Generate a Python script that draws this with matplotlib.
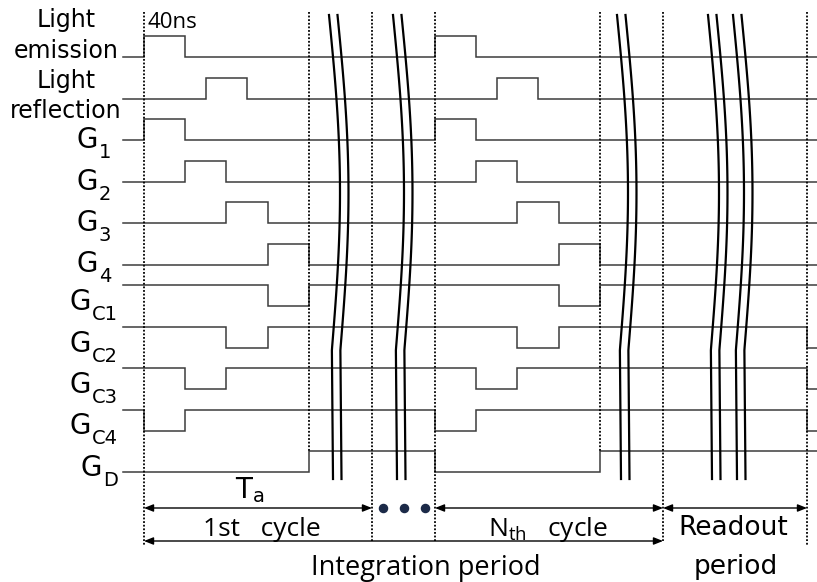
import numpy as np
import matplotlib.pyplot as plt

# timing chart rows, top to bottom
label_main = ["Light", "Light", "G", "G", "G", "G", "G", "G", "G", "G", "G"]
label_sub = ["emission", "reflection", "1", "2", "3", "4", "C1", "C2", "C3", "C4", "D"]
# pulse position inside one cycle, counted in 40 ns slots
pulse_slot = [0, 1.5, 0, 1, 2, 3, 3, 2, 1, 0, None]
# signals that idle high and pulse low
active_low = [False, False, False, False, False, False, True, True, True, True, True]
# signals that go low at the end of the readout period
low_after_readout = ["C2", "C3", "C4"]

# horizontal layout of the chart (diagram units)
x_start, x_end = 123, 817
cycle_start = [144, 435]
slot_w = 41.2
n_slots = 4
gap_mark = 372
readout_start, readout_end = 663, 807

# vertical layout
row_top = 57
row_step = 41.5
pulse_h = 21

# break marks: top x of each double line group, shape in diagram units
break_x = [329, 393, 617, 708, 733]
break_pair_gap = 8.5
break_drift = 4
break_bulge = 9.5

sig_color = "#3c3c3c"

fig = plt.figure(figsize=(8.17, 5.82), dpi=100)
ax = fig.add_axes([0, 0, 1, 1])
ax.set_xlim(0, 817)
ax.set_ylim(582, 0)
ax.axis("off")

cycle_end = [c + n_slots * slot_w for c in cycle_start]

# signals
for i in range(len(label_sub)):
    base = row_top + i * row_step
    high = base - pulse_h
    idle, act = (high, base) if active_low[i] else (base, high)
    if pulse_slot[i] is None:
        # G_D: low while the gates are cycling
        spans = [(x_start, cycle_end[0]), (cycle_start[1], cycle_end[1])]
    else:
        spans = [(c + pulse_slot[i] * slot_w, c + (pulse_slot[i] + 1) * slot_w)
                 for c in cycle_start]
    if label_sub[i] in low_after_readout:
        spans.append((readout_end, x_end))
    xs = [x_start]
    ys = [act if spans[0][0] <= x_start else idle]
    for a, b in spans:
        if a > x_start:
            xs += [a, a]
            ys += [idle, act]
        if b < x_end:
            xs += [b, b]
            ys += [act, idle]
    xs.append(x_end)
    ys.append(act if spans[-1][1] >= x_end else idle)
    ax.plot(xs, ys, color=sig_color, lw=1.1, solid_joinstyle="miter")

# dotted boundaries
marks = [cycle_start[0], cycle_end[0], gap_mark, cycle_start[1], cycle_end[1],
         readout_start, readout_end]
mark_bottom = [545, 451, 541, 541, 451, 541, 545]
for x, yb in zip(marks, mark_bottom):
    ax.plot([x, x], [12, yb], color="black", lw=1.3, ls=(0, (1, 1)))

# break marks
yy = np.linspace(15, 479, 120)
s = np.clip((yy - 15) / 335, 0, 1)
for xt in break_x:
    for off in (0, break_pair_gap):
        xx = xt + off + break_drift * (yy - 15) / 464 + break_bulge * np.sin(np.pi * s)
        ax.plot(xx, yy, color="black", lw=1.6)

# labels
renderer = fig.canvas.get_renderer()
two_line_off = [(-30, 1), (-10.5, 19.5)]
for i in range(len(label_sub)):
    base = row_top + i * row_step
    if i < 2:
        top_off, bot_off = two_line_off[i]
        ax.text(66, base + top_off, label_main[i], ha="center", va="baseline", fontsize=17)
        ax.text(66, base + bot_off, label_sub[i], ha="center", va="baseline", fontsize=17)
        continue
    if label_sub[i].isdigit():
        right, g_off = 111, 8
    else:
        right, g_off = 118, 4
    sub = ax.text(right, base + g_off + 10, label_sub[i], ha="right", va="baseline",
                  fontsize=14)
    bb = sub.get_window_extent(renderer).transformed(ax.transData.inverted())
    ax.text(min(bb.x0, bb.x1) - 1, base + g_off, label_main[i], ha="right",
            va="baseline", fontsize=20)

ax.text(148, 28, "40ns", ha="left", va="baseline", fontsize=16, family="Open Sans")

# arrows
def span_arrow(x0, x1, y):
    ax.annotate("", xy=(x1, y), xytext=(x0, y),
                arrowprops=dict(arrowstyle="<|-|>,head_length=0.55,head_width=0.22",
                                color="black", lw=1.0, shrinkA=0, shrinkB=0))

span_arrow(cycle_start[0], gap_mark, 508)
span_arrow(cycle_start[1], readout_start, 508)
span_arrow(readout_start, readout_end, 508)
span_arrow(cycle_start[0], readout_start, 541)

dots_x = [383, 404, 425]
ax.scatter(dots_x, [508] * len(dots_x), s=34, color="#1c2a48", zorder=3)

ax.text(250, 498, "T$_\\mathregular{a}$", ha="center", va="baseline", fontsize=20)
ax.text(262, 536, "1st   cycle", ha="center", va="baseline", fontsize=19, family="Open Sans")
ax.text(548, 536, "N$_\\mathregular{th}$   cycle", ha="center", va="baseline",
        fontsize=19, family="Open Sans")
ax.text(426, 575, "Integration period", ha="center", va="baseline", fontsize=19.5,
        family="Open Sans")
ax.text(733, 535, "Readout", ha="center", va="baseline", fontsize=19)
ax.text(736, 574, "period", ha="center", va="baseline", fontsize=19)

fig.savefig("out.png", dpi=100)
